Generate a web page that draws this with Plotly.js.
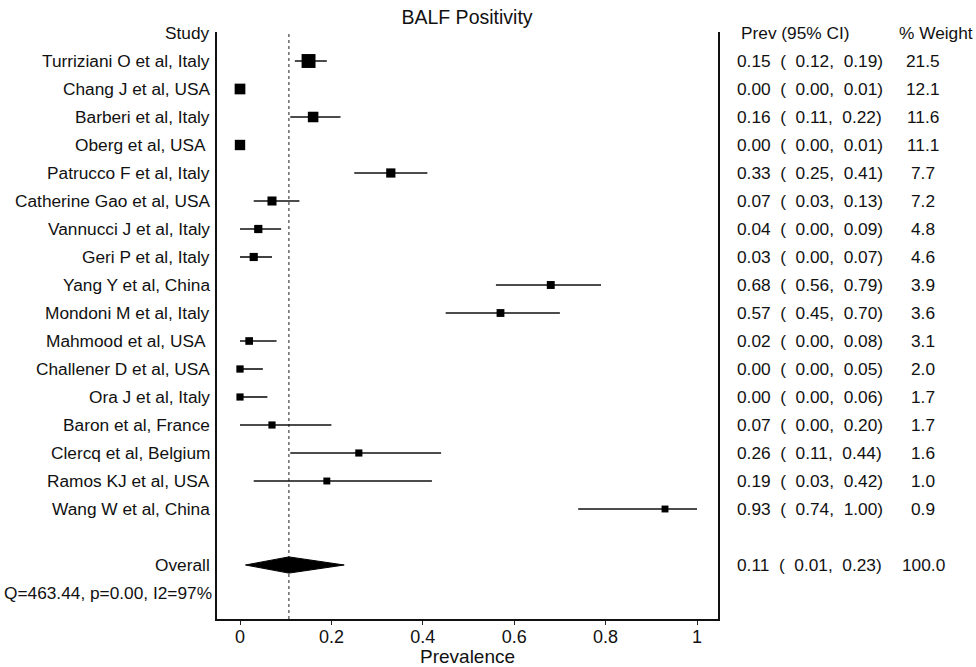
<!DOCTYPE html>
<html>
<head>
<meta charset="utf-8">
<script src="https://cdn.plot.ly/plotly-3.0.1.min.js"></script>
<style>html,body{margin:0;padding:0;background:#fff}#chart{width:976px;height:667px}</style>
</head>
<body>
<div id="chart"></div>
<script>
// ---- data ----
var studies = ["Turriziani O et al, Italy","Chang J et al, USA","Barberi et al, Italy","Oberg et al, USA ",
  "Patrucco F et al, Italy","Catherine Gao et al, USA","Vannucci J et al, Italy","Geri P et al, Italy",
  "Yang Y et al, China","Mondoni M et al, Italy","Mahmood et al, USA ","Challener D et al, USA",
  "Ora J et al, Italy","Baron et al, France","Clercq et al, Belgium","Ramos KJ et al, USA","Wang W et al, China"];
var prev  = [0.15,0.00,0.16,0.00,0.33,0.07,0.04,0.03,0.68,0.57,0.02,0.00,0.00,0.07,0.26,0.19,0.93];
var lower = [0.12,0.00,0.11,0.00,0.25,0.03,0.00,0.00,0.56,0.45,0.00,0.00,0.00,0.00,0.11,0.03,0.74];
var upper = [0.19,0.01,0.22,0.01,0.41,0.13,0.09,0.07,0.79,0.70,0.08,0.05,0.06,0.20,0.44,0.42,1.00];
var weight = [21.5,12.1,11.6,11.1,7.7,7.2,4.8,4.6,3.9,3.6,3.1,2.0,1.7,1.7,1.6,1.0,0.9];
var overallEst = 0.107, overallLo = 0.012, overallHi = 0.228, overallWeight = 100.0;
var heterogeneity = "Q=463.44, p=0.00, I2=97%";
var xTicks = [0,0.2,0.4,0.6,0.8,1];
var xTickLabels = ["0","0.2","0.4","0.6","0.8","1"];

// ---- layout constants (pixels) ----
var W = 976, H = 667, L = 217, R = 718, T = 32, B = 619;
var pw = R - L, ph = B - T;
function px(p){ return (p - L) / pw; }           // pixel x -> paper x
var FONT = '"Liberation Sans", Arial, sans-serif';
var TXT = '#111';
var nb = '\u00a0\u00a0';
var FS = 17.3;

var rows = studies.map(function(_, i){ return i + 1; });
var overallRow = studies.length + 2;
var qRow = overallRow + 1;

// CI lines
var cx = [], cy = [];
for (var i = 0; i < studies.length; i++) {
  cx.push(lower[i], upper[i], null);
  cy.push(rows[i], rows[i], null);
}
var ciTrace = {x: cx, y: cy, mode: 'lines', type: 'scatter', line: {color: '#111', width: 1.6}, hoverinfo: 'skip', showlegend: false};
var ptTrace = {x: prev, y: rows, mode: 'markers', type: 'scatter',
  marker: {symbol: 'square', color: '#000', opacity: 1, size: weight.map(function(w){ return 6.6 + 0.34 * w; }), line: {width: 0}},
  showlegend: false};
var dh = 0.29;
var diamond = {x: [overallLo, overallEst, overallHi, overallEst, overallLo],
  y: [overallRow, overallRow - dh, overallRow, overallRow + dh, overallRow],
  mode: 'lines', fill: 'toself', fillcolor: '#000', line: {color: '#000', width: 1}, type: 'scatter', showlegend: false, hoverinfo: 'skip'};

function fmt(v){ return v.toFixed(2); }
function ann(text, xp, y, anchor, extra){
  var a = {text: text, x: xp, xref: 'paper', y: y, yref: 'y', xanchor: anchor, yanchor: 'middle',
    showarrow: false, font: {family: FONT, size: FS, color: TXT}, borderpad: 0};
  if (extra) for (var k in extra) a[k] = extra[k];
  return a;
}
var anns = [];
anns.push(ann('Study', px(211), 0, 'right'));
anns.push(ann('Prev (95% CI)', px(740), 0, 'left'));
anns.push(ann('% Weight', px(898), 0, 'left'));
for (var i = 0; i < studies.length; i++) {
  anns.push(ann(studies[i].replace(/ $/, '\u00a0'), px(211), rows[i], 'right'));
  anns.push(ann(fmt(prev[i]) + nb + '(' + nb + fmt(lower[i]) + ',' + nb + fmt(upper[i]) + ')', px(736), rows[i], 'left'));
  anns.push(ann(weight[i].toFixed(1), px(923), rows[i], 'center'));
}
anns.push(ann('Overall', px(211), overallRow, 'right'));
anns.push(ann(fmt(overallEst) + nb + '(' + nb + fmt(overallLo) + ',' + nb + fmt(overallHi) + ')', px(736), overallRow, 'left'));
anns.push(ann(overallWeight.toFixed(1), px(923), overallRow, 'center'));
anns.push(ann(heterogeneity, px(213), qRow, 'right'));
anns.push({text: 'Prevalence', x: 0.5 + (467 - (L + R) / 2) / pw, xref: 'paper', y: (B - 656) / ph, yref: 'paper',
  xanchor: 'center', yanchor: 'middle', showarrow: false, font: {family: FONT, size: 19, color: TXT}});

var x0 = 240, x1 = 697;  // pixel of 0 and 1
var xr = [(L - x0) / (x1 - x0), (R - x0) / (x1 - x0)];
var rowPx = 28, row0 = 33;
var yr = [(B - row0) / rowPx, (T - row0) / rowPx];

var layout = {
  width: W, height: H,
  margin: {l: L, r: W - R, t: T, b: H - B, pad: 0},
  paper_bgcolor: '#fff', plot_bgcolor: '#fff',
  font: {family: FONT, color: TXT},
  title: {text: 'BALF Positivity', x: 467 / W, xanchor: 'center', y: 1 - 17 / H, yanchor: 'middle', yref: 'container',
    font: {family: FONT, size: 19.5, color: TXT}},
  xaxis: {range: xr, tickvals: xTicks, ticktext: xTickLabels, ticks: 'outside', ticklen: 4, tickwidth: 1, tickcolor: '#222',
    ticklabelstandoff: -3,
    showgrid: false, zeroline: false, showline: true, linecolor: '#111', linewidth: 1.6, mirror: false,
    tickfont: {family: FONT, size: 18, color: TXT}, fixedrange: true},
  yaxis: {range: yr, showticklabels: false, ticks: '', showgrid: false, zeroline: false,
    showline: true, linecolor: '#111', linewidth: 1.6, mirror: true, fixedrange: true},
  shapes: [{type: 'line', xref: 'x', yref: 'paper', x0: overallEst, x1: overallEst, y0: 0, y1: 1,
    line: {color: '#333', width: 1.1, dash: 'dot'}, layer: 'below'}],
  annotations: anns,
  showlegend: false
};
Plotly.newPlot('chart', [ciTrace, diamond, ptTrace], layout, {staticPlot: true, displayModeBar: false});
</script>
</body>
</html>
